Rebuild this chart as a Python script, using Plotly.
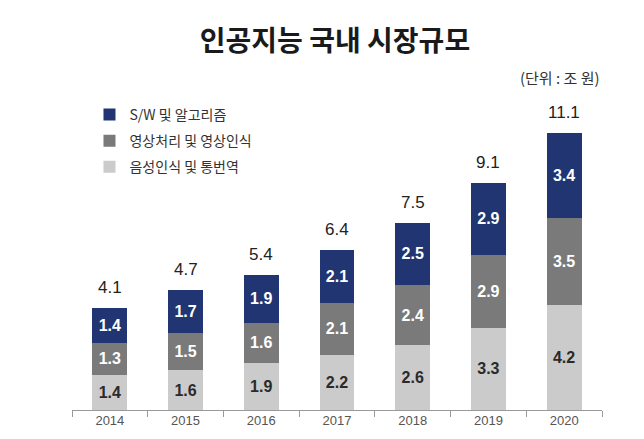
import plotly.graph_objects as go

years = ["2014", "2015", "2016", "2017", "2018", "2019", "2020"]
speech = [1.4, 1.6, 1.9, 2.2, 2.6, 3.3, 4.2]      # 음성인식 및 통번역
vision = [1.3, 1.5, 1.6, 2.1, 2.4, 2.9, 3.5]      # 영상처리 및 영상인식
software = [1.4, 1.7, 1.9, 2.1, 2.5, 2.9, 3.4]    # S/W 및 알고리즘
totals = ["4.1", "4.7", "5.4", "6.4", "7.5", "9.1", "11.1"]

names = ["음성인식 및 통번역", "영상처리 및 영상인식", "S/W 및 알고리즘"]
ranks = [3, 2, 1]
colors = ["#cbcbcb", "#7a7a7a", "#203571"]
text_colors = ["#2a2a2a", "#ffffff", "#ffffff"]
series = [speech, vision, software]

FONT = "Liberation Sans, Arial, Noto Sans CJK KR, sans-serif"
KFONT = "Noto Sans CJK KR, Liberation Sans, sans-serif"

W, H = 628, 423  # page body margin of 8px is added around the figure

fig = go.Figure()
for name, vals, col, tcol, rk in zip(names, series, colors, text_colors, ranks):
    fig.add_trace(go.Bar(
        x=years, y=vals, name=name,
        marker=dict(color=col, line=dict(width=0)),
        text=[f"{v:.1f}" for v in vals],
        textposition="inside", insidetextanchor="middle", textangle=0,
        textfont=dict(color=tcol, size=16, family=FONT, weight="bold"),
        legendgroup=name, legendrank=rk,
    ))

stack_tops = [a + b + c for a, b, c in zip(speech, vision, software)]
for i, (top, lab) in enumerate(zip(stack_tops, totals)):
    fig.add_annotation(x=i, y=top, text=lab, showarrow=False,
                       yanchor="bottom", yshift=9,
                       font=dict(size=17, color="#222222", family=FONT))

fig.update_layout(
    width=W, height=H,
    margin=dict(l=64, r=34, t=52, b=21, autoexpand=False),
    paper_bgcolor="white", plot_bgcolor="white",
    barmode="stack", bargap=0.54,
    showlegend=True,
    legend=dict(
        x=0.033, y=0.889, xanchor="left", yanchor="top",
        traceorder="grouped", tracegroupgap=5,
        font=dict(size=14, color="#333333", family=KFONT),
        itemwidth=30, bgcolor="rgba(0,0,0,0)",
    ),
    title=dict(
        text="인공지능 국내 시장규모",
        x=327 / W, xref="container", xanchor="center",
        y=1 - 33 / H, yref="container", yanchor="middle",
        font=dict(size=28, color="#1a1a1a", family=KFONT, weight="bold"),
    ),
    xaxis=dict(
        type="category", range=[-0.5, len(years) - 0.5], showgrid=False,
        showline=True, linecolor="#9a9a9a", linewidth=1,
        ticks="outside", tickson="boundaries", ticklen=6, tickcolor="#9a9a9a",
        ticklabelstandoff=-2, automargin=False,
        tickfont=dict(size=13, color="#555555", family=FONT),
    ),
    yaxis=dict(range=[0, 14], visible=False, showgrid=False, zeroline=False,
               automargin=False),
)

fig.add_annotation(
    text="(단위 : 조 원)", xref="paper", yref="paper",
    x=1.0, xanchor="right", y=1 - (78 - 60) / 350, yanchor="middle",
    showarrow=False, font=dict(size=15, color="#333333", family=KFONT),
)

fig.write_html("out.html")
